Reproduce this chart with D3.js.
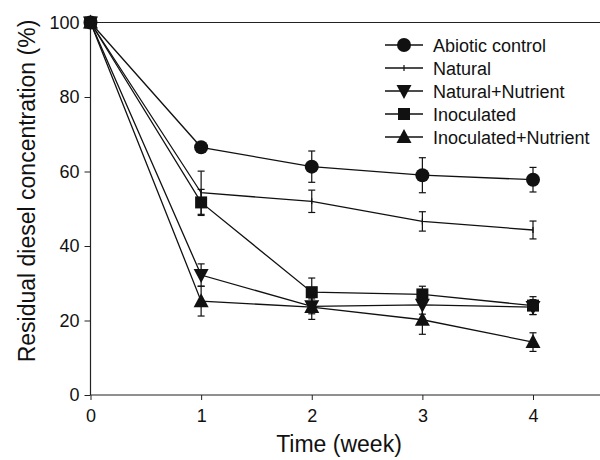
<!DOCTYPE html>
<html>
<head>
<meta charset="utf-8">
<script src="https://cdn.jsdelivr.net/npm/d3@7"></script>
<style>
  body { margin: 0; background: #fff; }
  text { font-family: "Liberation Sans", Arial, sans-serif; fill: #111; }
</style>
</head>
<body>
<script>
// data
var weeks = [0, 1, 2, 3, 4]
var seriesNames = ["Abiotic control", "Natural", "Natural+Nutrient", "Inoculated", "Inoculated+Nutrient"]
var seriesSymbols = ["circle", "plus", "down", "square", "up"]

var abiotic = [100, 66.5, 61.3, 59.0, 57.8]
var abioticErr = [0, 1.0, 4.2, 4.7, 3.3]
var natural = [100, 54.3, 52.0, 46.6, 44.3]
var naturalErr = [0, 5.8, 3.0, 2.6, 2.4]
var natNutr = [100, 32.2, 23.8, 24.2, 23.6]
var natNutrErr = [0, 3.0, 2.0, 2.5, 2.0]
var inoc = [100, 51.7, 27.6, 27.0, 24.0]
var inocErr = [0, 3.5, 3.8, 2.2, 2.4]
var inocNutr = [100, 25.2, 23.6, 20.2, 14.2]
var inocNutrErr = [0, 4.0, 3.3, 3.9, 2.5]

var yTicks = [0, 20, 40, 60, 80, 100]
var xTicks = [0, 1, 2, 3, 4]

var allValues = [abiotic, natural, natNutr, inoc, inocNutr]
var allErrors = [abioticErr, naturalErr, natNutrErr, inocErr, inocNutrErr]

var width = 600, height = 460

var x = d3.scaleLinear().domain([0, 4]).range([90.5, 533])
var y = d3.scaleLinear().domain([0, 100]).range([395, 22.5])

var svg = d3.select('body')
	.append('svg')
	.attr('width', width)
	.attr('height', height)

// frame lines (left axis, top border, bottom axis)
svg.append('line')
	.attr('x1', x(0)).attr('x2', width)
	.attr('y1', y(100)).attr('y2', y(100))
	.style('stroke', '#222').style('stroke-width', 1.2)

var yAxis = svg.append('g')
	.attr('transform', 'translate(' + x(0) + ',0)')
	.call(d3.axisLeft(y).tickValues(yTicks).tickSize(6).tickPadding(5))
yAxis.select('.domain').attr('d', 'M0,' + y(0) + 'V' + y(100))

var xAxis = svg.append('g')
	.attr('transform', 'translate(0,' + y(0) + ')')
	.call(d3.axisBottom(x).tickValues(xTicks).tickFormat(d3.format('d')).tickSize(5).tickPadding(9))
xAxis.select('.domain').attr('d', 'M' + x(0) + ',0H' + width)

svg.selectAll('.domain').style('stroke', '#222').style('stroke-width', 1.2)
svg.selectAll('.tick line').style('stroke', '#222')
svg.selectAll('.tick text')
	.style('font-size', '18px')
	.style('font-family', '"Liberation Sans", Arial, sans-serif')
	.attr('fill', '#111')

// axis titles
svg.append('text')
	.attr('x', 339)
	.attr('y', 452)
	.attr('text-anchor', 'middle')
	.style('font-size', '23px')
	.text('Time (week)')

svg.append('text')
	.attr('transform', 'translate(35,' + 191 + ') rotate(-90)')
	.attr('text-anchor', 'middle')
	.style('font-size', '23px')
	.text('Residual diesel concentration (%)')

var line = d3.line()
	.x(function(d, i) { return x(weeks[i]) })
	.y(function(d) { return y(d) })

function drawSymbol(g, kind, cx, cy) {
	if (kind == "circle") {
		g.append('circle').attr('cx', cx).attr('cy', cy).attr('r', 7).attr('fill', '#111')
	} else if (kind == "square") {
		g.append('rect').attr('x', cx - 6).attr('y', cy - 6).attr('width', 12).attr('height', 12).attr('fill', '#111')
	} else if (kind == "up") {
		g.append('path').attr('d', 'M' + cx + ',' + (cy - 8) + 'L' + (cx + 7.5) + ',' + (cy + 6) + 'L' + (cx - 7.5) + ',' + (cy + 6) + 'Z').attr('fill', '#111')
	} else if (kind == "down") {
		g.append('path').attr('d', 'M' + cx + ',' + (cy + 8) + 'L' + (cx + 7.5) + ',' + (cy - 6) + 'L' + (cx - 7.5) + ',' + (cy - 6) + 'Z').attr('fill', '#111')
	} else if (kind == "plus") {
		g.append('line').attr('x1', cx).attr('x2', cx).attr('y1', cy - 3).attr('y2', cy + 3)
			.style('stroke', '#111').style('stroke-width', 1.2)
	}
}

allValues.forEach(function(vals, s) {
	var g = svg.append('g')
	var errs = allErrors[s]
	// error bars
	vals.forEach(function(v, i) {
		if (errs[i] <= 0) return
		var cx = x(weeks[i])
		g.append('line').attr('x1', cx).attr('x2', cx)
			.attr('y1', y(v + errs[i])).attr('y2', y(v - errs[i]))
			.style('stroke', '#111').style('stroke-width', 1.2)
		g.append('line').attr('x1', cx - 3.5).attr('x2', cx + 3.5)
			.attr('y1', y(v + errs[i])).attr('y2', y(v + errs[i]))
			.style('stroke', '#111').style('stroke-width', 1.2)
		g.append('line').attr('x1', cx - 3.5).attr('x2', cx + 3.5)
			.attr('y1', y(v - errs[i])).attr('y2', y(v - errs[i]))
			.style('stroke', '#111').style('stroke-width', 1.2)
	})
	g.append('path')
		.datum(vals)
		.attr('d', line)
		.attr('fill', 'none')
		.style('stroke', '#111')
		.style('stroke-width', 1.3)
	vals.forEach(function(v, i) {
		drawSymbol(g, seriesSymbols[s], x(weeks[i]), y(v))
	})
})

// legend
var legend = svg.append('g')
seriesNames.forEach(function(name, i) {
	var ly = 45 + i * 23
	legend.append('line')
		.attr('x1', 385).attr('x2', 423)
		.attr('y1', ly).attr('y2', ly)
		.style('stroke', '#111').style('stroke-width', 1.3)
	drawSymbol(legend, seriesSymbols[i], 404, ly)
	legend.append('text')
		.attr('x', 433)
		.attr('y', ly + 6.5)
		.style('font-size', '18px')
		.text(name)
})
</script>
</body>
</html>
